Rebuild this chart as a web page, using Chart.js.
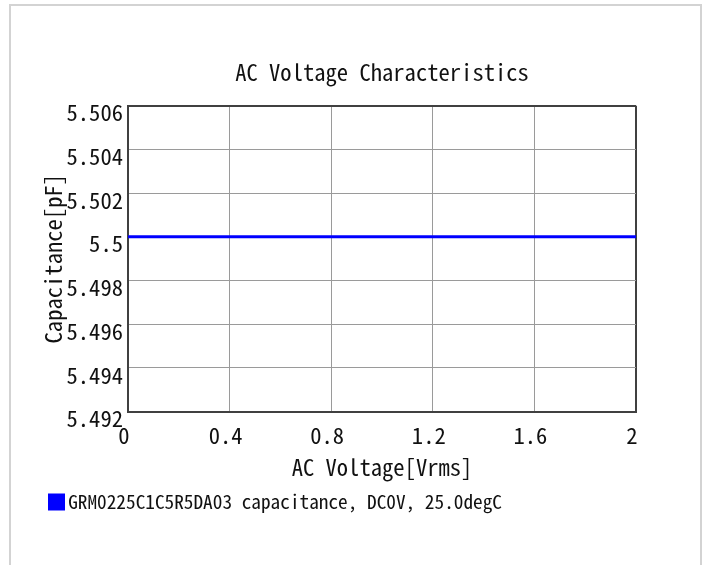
<!DOCTYPE html>
<html>
<head>
<meta charset="utf-8">
<script src="https://cdn.jsdelivr.net/npm/chart.js@4.4.1/dist/chart.umd.min.js"></script>
<style>
  html, body { margin: 0; padding: 0; background: #ffffff; overflow: hidden; }
  #frame { position: absolute; left: 9px; top: 4px; width: 689px; height: 700px; border: 2px solid #d3d3d3; box-sizing: content-box; }
  #c { position: absolute; left: 0; top: 0; z-index: 1; }
</style>
</head>
<body>
<div id="frame"></div>
<canvas id="c" width="707" height="565"></canvas>
<script>
// ---- data ----
const chartTitle = 'AC Voltage Characteristics';
const xTitle = 'AC Voltage[Vrms]';
const yTitle = 'Capacitance[pF]';
const seriesLabel = 'GRM0225C1C5R5DA03 capacitance, DC0V, 25.0degC';
const voltage = [0, 0.5, 1.0, 1.5, 2.0];
const capacitance = [5.5, 5.5, 5.5, 5.5, 5.5];
const xTickValues = [0, 0.4, 0.8, 1.2, 1.6, 2];
const yTickValues = [5.492, 5.494, 5.496, 5.498, 5.5, 5.502, 5.504, 5.506];

// ---- font sizing (monospace half-width look) ----
const FAMILY = '"Noto Sans Mono CJK JP", "Noto Sans Mono CJK SC", "DejaVu Sans Mono", monospace';
function sizeFor(charW) {
  const c = document.createElement('canvas').getContext('2d');
  c.font = '100px ' + FAMILY;
  const w = c.measureText('0123456789').width / 10 / 100;
  return Math.round(charW / w * 10) / 10;
}
const BIG = sizeFor(11.3);
const SMALL = sizeFor(9.66);
const TEXT = '#111111';
const GRID = '#9a9a9a';
const FRAME = '#404040';

const points = voltage.map((v, i) => ({ x: v, y: capacitance[i] }));

function isMax(ctx, max) {
  return ctx.tick && Math.abs(ctx.tick.value - max) < 1e-9;
}

new Chart(document.getElementById('c'), {
  type: 'line',
  data: {
    datasets: [{
      label: seriesLabel,
      data: points,
      borderColor: '#0000ff',
      backgroundColor: '#0000ff',
      borderWidth: 3,
      pointRadius: 0,
      tension: 0,
      fill: false
    }]
  },
  options: {
    responsive: false,
    animation: false,
    devicePixelRatio: 1,
    layout: { padding: { left: 44.5, right: 71, top: 0, bottom: 43.35 } },
    plugins: {
      title: {
        display: true,
        fullSize: false,
        text: chartTitle,
        color: TEXT,
        font: { family: FAMILY, size: BIG, weight: 'normal', lineHeight: '27px' },
        padding: { top: 59, bottom: 19.7 }
      },
      legend: {
        display: true,
        position: 'bottom',
        align: 'start',
        labels: {
          color: TEXT,
          font: { family: FAMILY, size: SMALL, weight: 'normal' },
          boxWidth: 4,
          boxHeight: 4,
          padding: 10,
          generateLabels(chart) {
            const items = Chart.defaults.plugins.legend.labels.generateLabels(chart);
            items.forEach(it => {
              it.lineWidth = 13;
              it.strokeStyle = '#0000ff';
              it.fillStyle = '#0000ff';
              it.lineJoin = 'miter';
            });
            return items;
          }
        }
      },
      tooltip: { enabled: false }
    },
    scales: {
      x: {
        type: 'linear',
        min: 0,
        max: 2,
        afterBuildTicks(scale) { scale.ticks = xTickValues.map(v => ({ value: v })); },
        afterFit(scale) { scale.height = 70.65; },
        ticks: {
          color: TEXT,
          font: { family: FAMILY, size: BIG, lineHeight: '27px' },
          padding: 10.6,
          labelOffset: -4,
          maxRotation: 0,
          autoSkip: false,
          callback: (v) => String(v)
        },
        grid: {
          drawTicks: false,
          color: (ctx) => isMax(ctx, 2) ? FRAME : GRID,
          lineWidth: (ctx) => isMax(ctx, 2) ? 2 : 1
        },
        border: { display: true, color: FRAME, width: 2 },
        title: {
          display: true,
          text: xTitle,
          color: TEXT,
          font: { family: FAMILY, size: BIG, lineHeight: '27px' },
          padding: { top: 0, bottom: 1.85 }
        }
      },
      y: {
        type: 'linear',
        min: 5.492,
        max: 5.506,
        afterBuildTicks(scale) { scale.ticks = yTickValues.map(v => ({ value: v })); },
        afterFit(scale) { scale.width = 128 - 44.5; },
        ticks: {
          color: TEXT,
          font: { family: FAMILY, size: BIG, lineHeight: '27px' },
          padding: 5,
          labelOffset: 7,
          autoSkip: false,
          callback: (v) => String(v)
        },
        grid: {
          drawTicks: false,
          color: (ctx) => isMax(ctx, 5.506) ? FRAME : GRID,
          lineWidth: (ctx) => isMax(ctx, 5.506) ? 2 : 1
        },
        border: { display: true, color: FRAME, width: 2 },
        title: {
          display: true,
          text: yTitle,
          color: TEXT,
          font: { family: FAMILY, size: BIG, lineHeight: '18px' },
          padding: { top: 0, bottom: 0 }
        }
      }
    }
  }
});
</script>
</body>
</html>
